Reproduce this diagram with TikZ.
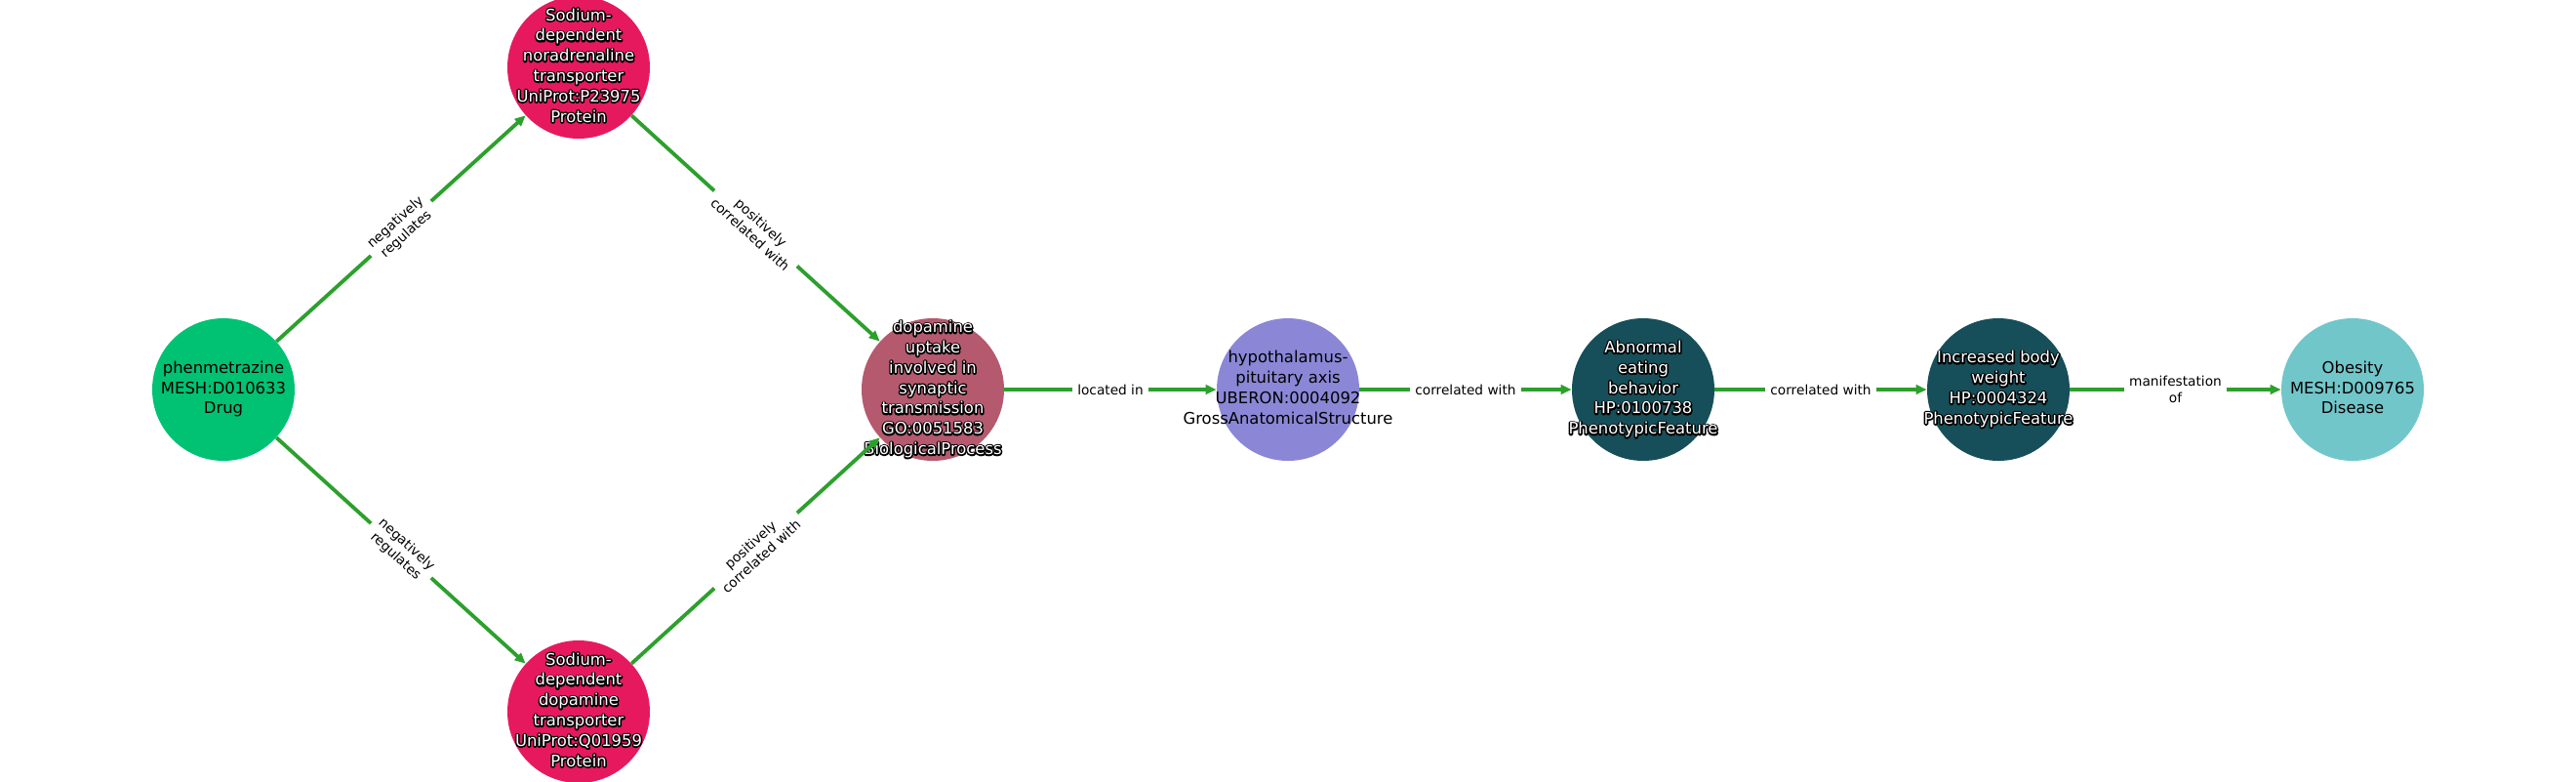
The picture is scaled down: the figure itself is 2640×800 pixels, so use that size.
\documentclass[tikz,border=0pt]{standalone}
\usepackage{fontspec}
\setmainfont{DejaVu Sans}
\usetikzlibrary{arrows.meta}

\definecolor{drugcol}{HTML}{00C272}
\definecolor{protcol}{HTML}{E6195F}
\definecolor{bproccol}{HTML}{B5596E}
\definecolor{anatcol}{HTML}{8B87D6}
\definecolor{phenocol}{HTML}{164F59}
\definecolor{discol}{HTML}{71C6CA}
\definecolor{edgecol}{HTML}{2CA02C}

% stacked lines held in a box of no size, so the circles keep one size
\newcommand\lines[1]{\begin{tabular}{@{}c@{}}#1\end{tabular}}
\newcommand\inbox[1]{\makebox[0pt]{\raisebox{\dimexpr(\depth-\height)/2\relax}[0pt][0pt]{#1}}}
\newcommand\plain[1]{\inbox{\lines{#1}}}
% white letters over a black rim
\newcommand\halo[1]{\inbox{\rlap{\color{black}\special{pdf:literal direct 1 Tr 1.5 w 1 j}\lines{#1}\special{pdf:literal direct 0 Tr}}\lines{#1}}}

\tikzset{
    ent/.style={circle, inner sep=0pt, minimum size=73pt,
        font=\fontsize{8.2}{10.4}\selectfont},
    dark/.style={ent, text=white},
    edge/.style={draw=edgecol, line width=1.9pt, -{Triangle[length=5.5pt,width=4.8pt]}},
    elab/.style={fill=white, text=black, align=center, inner xsep=2.8pt, inner ysep=1.5pt,
        font=\fontsize{6.85}{8.2}\selectfont}
}

\begin{document}
\begin{tikzpicture}[x=0.5pt, y=-0.5pt]

    % Canvas
    \fill[white] (0,0) rectangle (2640,800);
    \useasboundingbox (0,0) rectangle (2640,800);

    % Drug and the two transporters
    \node[ent, fill=drugcol] (phen) at (229,399) {\plain{phenmetrazine\\MESH:D010633\\Drug}};
    \node[dark, fill=protcol] (net) at (593,69)
        {\halo{Sodium-\\dependent\\noradrenaline\\transporter\\UniProt:P23975\\Protein}};
    \node[dark, fill=protcol] (dat) at (593,729)
        {\halo{Sodium-\\dependent\\dopamine\\transporter\\UniProt:Q01959\\Protein}};

    % The chain from the process to the disease
    \node[dark, fill=bproccol] (dup) at (956,399)
        {\halo{dopamine\\uptake\\involved in\\synaptic\\transmission\\GO:0051583\\BiologicalProcess}};
    \node[ent, fill=anatcol] (hpa) at (1320,399)
        {\plain{hypothalamus-\\pituitary axis\\UBERON:0004092\\GrossAnatomicalStructure}};
    \node[dark, fill=phenocol] (aeb) at (1684,399)
        {\halo{Abnormal\\eating\\behavior\\HP:0100738\\PhenotypicFeature}};
    \node[dark, fill=phenocol] (ibw) at (2048,399)
        {\halo{Increased body\\weight\\HP:0004324\\PhenotypicFeature}};
    \node[ent, fill=discol] (obes) at (2411,399) {\plain{Obesity\\MESH:D009765\\Disease}};

    % Diamond edges, labels along the lines
    \draw[edge] (phen) -- node[elab, sloped] {negatively\\regulates} (net);
    \draw[edge] (phen) -- node[elab, sloped] {negatively\\regulates} (dat);
    \draw[edge] (net) -- node[elab, sloped] {positively\\correlated with} (dup);
    \draw[edge] (dat) -- node[elab, sloped] {positively\\correlated with} (dup);

    % Straight run to the right
    \foreach \a/\b/\lab in {dup/hpa/located in, hpa/aeb/correlated with,
                            aeb/ibw/correlated with, ibw/obes/manifestation\\of} {
        \draw[edge] (\a) -- node[elab] {\lab} (\b);
    }

\end{tikzpicture}
\end{document}
